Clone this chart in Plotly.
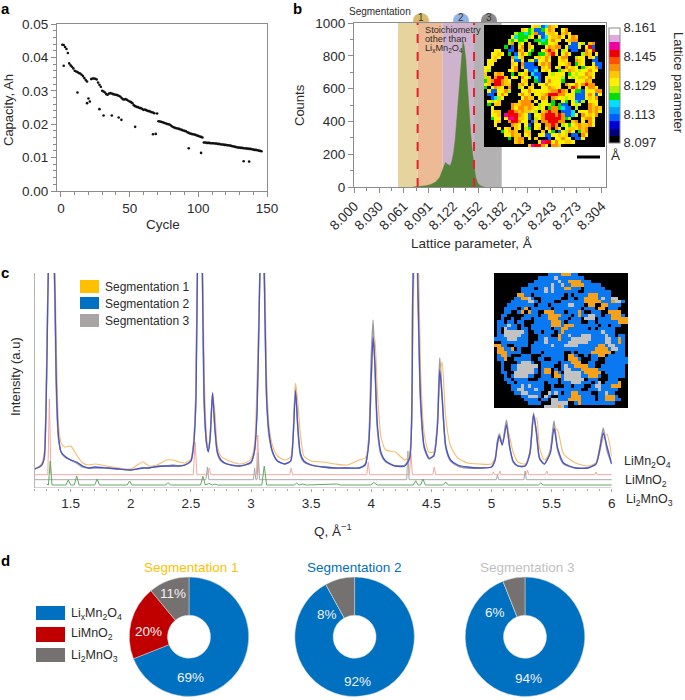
import plotly.graph_objects as go

# panel a: capacity fade
cycle_main = list(range(1, 20)) + list(range(22, 69)) + list(range(70, 103)) + list(range(103, 147))
capacity_main = [
    .0438, .0437, .0431, .0425, .0413, .0382, .0376, .0372, .0367, .0360, .0358, .0356, .0353, .0352, .0348, .0344, .0338, .0332, .0328,
    .0335, .0337, .0337, .0336, .0334, .0325, .0318, .0312, .0300, .0298, .0295, .0290, .0288, .0292, .0293, .0292, .0290, .0289, .0288, .0287, .0285, .0283, .0279, .0275, .0274, .0275, .0273, .0270, .0268, .0266, .0263, .0257, .0254, .0252, .0251, .0249, .0248, .0246, .0243, .0244, .0242, .0240, .0239, .0238, .0236, .0235, .0233, .0232,
    .0209, .0208, .0207, .0206, .0204, .0203, .0201, .0200, .0199, .0196, .0193, .0191, .0189, .0188, .0187, .0186, .0184, .0183, .0181, .0180, .0179, .0176, .0174, .0172, .0171, .0170, .0169, .0168, .0166, .0165, .0163, .0162, .0160,
    .0145, .0145, .0144, .0144, .0144, .0143, .0143, .0143, .0142, .0142, .0141, .0141, .0140, .0139, .0139, .0138, .0138, .0137, .0137, .0136, .0135, .0134, .0133, .0132, .0131, .0130, .0130, .0129, .0129, .0128, .0128, .0127, .0127, .0126, .0126, .0125, .0124, .0123, .0123, .0122, .0121, .0120, .0119, .0116,
]
cycle_low = [2, 12, 19, 20, 21, 28, 31, 37, 42, 44, 54, 67, 69, 93, 102, 133, 137]
capacity_low = [.0375, .0295, .0263, .0277, .0268, .0245, .0226, .0226, .0220, .0213, .0192, .0170, .0171, .0128, .0114, .0089, .0088]

# panel b: histogram of lattice parameter
lattice_bins = [8.072, 8.080, 8.088, 8.094, 8.100, 8.105, 8.108, 8.110, 8.112, 8.114, 8.118, 8.120, 8.122, 8.124, 8.126, 8.128, 8.130, 8.132, 8.1335, 8.135, 8.137, 8.139, 8.141, 8.143, 8.145, 8.147, 8.149, 8.152, 8.156, 8.160]
lattice_counts = [0, 2, 8, 15, 30, 60, 95, 115, 150, 140, 130, 160, 210, 290, 410, 560, 700, 820, 890, 860, 780, 620, 460, 330, 220, 120, 60, 20, 5, 0]
hist_ticks = [8.0, 8.0304, 8.0608, 8.0912, 8.1216, 8.152, 8.1824, 8.2128, 8.2432, 8.2736, 8.304]
hist_labels = ["8.000", "8.030", "8.061", "8.091", "8.122", "8.152", "8.182", "8.213", "8.243", "8.273", "8.304"]
hist_minor = [8.0152, 8.0456, 8.076, 8.1064, 8.1368, 8.1672, 8.1976, 8.228, 8.2584, 8.2888]
band_edges = [8.0537, 8.0778, 8.1086, 8.1471, 8.1811]
band_colors = ["#e6d39d", "#edba96", "#cfb2cd", "#b3b1b1"]
cut_lines = [8.0778, 8.1471]
bubble_labels = ["1", "2", "3"]
bubble_colors = ["#d9bb6e", "#93b4e2", "#8c8a8a"]

# lattice map, one letter per cell
lattice_rows = [
    "..............yalbcoay..............",
    "...........ayglbbgyoa..yo...........",
    ".........lggcglobbyaay.aoy..........",
    "........ycgggly.ybcyaaoy.yoa........",
    ".......lgyggl..ggcgyoyy.yaoo........",
    ".......lo.ly.a..lggyya...ybbyl.ao...",
    "......g.b.yo.ay...yoaoo.ybbby.yrb...",
    "...yy..bb.oa.yg..yoroy.ly.bb..oyr...",
    "..yyay.g.byoyg..ggaory.yoy...loa.y..",
    "..yay...ocya...yayoa..yoo..lyy.ayb..",
    ".yya....ybby.lybyyoy..yay..oay..bb..",
    ".yy.....ay.obbb.yoao..yyao.gay..ybb.",
    "yy......yo.abbbb.ayo.ya.oyay.gayyob.",
    "yl.....yyo..ybbc.yay..gayoaylyyoyy..",
    "a..aoa..g.lya.cbb..ylyyy.gylyyoay...",
    "la.orra.yy.oyl.cb.yyyyyl.ylylayoy...",
    "gaorroay...ya..gb.yoyyyg...yyyoa....",
    "ya.rroaa..aoy.a.yyoyyyy.oyyoyoroo...",
    "g.yoay.o..ly.ay..yyoayy..aroy.yooy..",
    ".ybbyyol...yyoyyyyyaooroa.yggbyyyoo.",
    ".bb.yoy...yoya.yyaorrrooyyybbbyoyby.",
    "..bcly.....yoaa.yoa.oayylyybbbyayo..",
    ".ylya.....aooo.y.yy.g..yg.ycbl.yyy..",
    ".g.aa...oaaoooa.lyylg.gbb.yly..oay..",
    "..y.....oyooaoayly.googcbb.l...oaoa.",
    "..yaa..rroaoaayl.aoroo.bbbc.yyyoaoy.",
    "..yya.mrrroayb.yyorrrorobbcy.oyayo..",
    "..gyy.ymmraayb.lyorrrrrogl...yooy...",
    "...ya..orroyy.ba.oorrroo..ao.y.oy...",
    "...y....oay.yb.yy.ooro.lygyaoaaoy...",
    "....y.ya.ay.lg.ya.yo.oy.yaayoao.....",
    ".....gyaoa..aa...a.yg.byloy.gao.....",
    "......yyoaa.ya..yybbyyaya.bb.oy.....",
    ".......g.aoo.y.a..nb.yyoyy.bby......",
    ".........aoa....ymrryoyyaay.........",
    ".............amrroy.ooa.............",
]
lattice_letters = ".ndbscglyaotrmpw"
lattice_palette = ["#000000", "#00007a", "#0000d8", "#0060ff", "#00a0ff", "#00e0ff", "#00e000", "#b0f000",
                   "#fff000", "#ffc800", "#ff9000", "#ff5000", "#f00000", "#f000a0", "#e0a8dc", "#ffffff"]
lattice_min = 8.097
lattice_max = 8.161
lattice_tickvals = [8.097, 8.113, 8.129, 8.145, 8.161]

# panel c: diffraction patterns, height above the axis
q_grid = [1.20, 1.22, 1.24, 1.26, 1.28, 1.30, 1.31, 1.32, 1.33, 1.345,
          1.36, 1.37, 1.38, 1.39, 1.40, 1.42, 1.45, 1.50, 1.55, 1.60,
          1.65, 1.70, 1.80, 1.90, 2.00, 2.10, 2.15, 2.20, 2.30, 2.35,
          2.40, 2.45, 2.50, 2.52, 2.54, 2.555, 2.575, 2.595, 2.61, 2.63,
          2.645, 2.66, 2.68, 2.70, 2.72, 2.75, 2.80, 2.90, 2.95, 3.00,
          3.03, 3.05, 3.07, 3.09, 3.11, 3.13, 3.15, 3.18, 3.22, 3.28,
          3.33, 3.35, 3.37, 3.39, 3.41, 3.44, 3.50, 3.60, 3.70, 3.80,
          3.90, 3.95, 3.98, 4.00, 4.015, 4.03, 4.05, 4.08, 4.12, 4.20,
          4.28, 4.32, 4.345, 4.37, 4.39, 4.41, 4.44, 4.48, 4.52, 4.55,
          4.57, 4.59, 4.62, 4.66, 4.72, 4.80, 4.90, 5.00, 5.03, 5.05,
          5.065, 5.09, 5.125, 5.15, 5.18, 5.22, 5.28, 5.32, 5.35, 5.375,
          5.40, 5.44, 5.49, 5.52, 5.55, 5.60, 5.70, 5.80, 5.87, 5.90,
          5.93, 5.96, 6.00]
seg1_curve = [19, 20, 22, 25, 36, 130, 210, 260, 290, 300,
              250, 215, 150, 90, 62, 45, 41, 42, 33, 25,
              23, 24, 22, 20, 19, 26, 22, 22, 28, 28,
              26, 25, 29, 45, 100, 240, 300, 250, 120, 52,
              38, 55, 96, 75, 42, 32, 28, 24, 25, 29,
              45, 107, 200, 300, 250, 110, 62, 42, 32, 28,
              31, 50, 105, 85, 55, 32, 27, 26, 24, 23,
              28, 30, 45, 100, 140, 150, 100, 52, 38, 36,
              28, 33, 140, 300, 250, 120, 55, 36, 36, 62,
              110, 126, 70, 42, 30, 25, 24, 24, 30, 42,
              48, 45, 62, 52, 36, 26, 24, 33, 68, 70,
              40, 28, 36, 60, 58, 34, 25, 22, 25, 35,
              50, 54, 32]
seg2_curve = [19, 20, 21, 23, 30, 110, 190, 250, 290, 300,
              240, 190, 110, 70, 50, 36, 32, 28, 26, 22,
              20, 21, 20, 19, 18, 20, 20, 21, 22, 22,
              22, 23, 27, 40, 80, 220, 300, 220, 90, 45,
              36, 50, 95, 60, 36, 28, 24, 22, 23, 26,
              38, 75, 190, 300, 215, 90, 55, 36, 27, 24,
              27, 50, 97, 60, 35, 27, 23, 21, 20, 20,
              20, 23, 45, 110, 151, 125, 65, 36, 27, 22,
              22, 30, 190, 300, 190, 90, 42, 30, 32, 60,
              118, 90, 42, 28, 23, 21, 20, 21, 28, 45,
              52, 43, 63, 42, 27, 22, 22, 35, 73, 55,
              30, 24, 35, 60, 40, 25, 20, 20, 24, 38,
              55, 42, 24]
seg3_curve = [19, 20, 21, 23, 30, 115, 195, 250, 290, 300,
              235, 180, 100, 65, 48, 36, 31, 28, 25, 21,
              20, 20, 20, 19, 18, 20, 20, 22, 22, 23,
              22, 23, 27, 40, 85, 225, 300, 215, 85, 45,
              37, 50, 95, 58, 35, 27, 24, 22, 23, 25,
              38, 78, 195, 300, 210, 88, 52, 35, 27, 24,
              27, 52, 103, 58, 33, 26, 23, 21, 20, 20,
              20, 24, 50, 130, 168, 125, 60, 34, 26, 22,
              23, 32, 195, 300, 180, 85, 40, 29, 33, 65,
              130, 90, 40, 27, 22, 20, 20, 21, 28, 47,
              54, 44, 68, 42, 26, 22, 22, 36, 75, 53,
              29, 24, 38, 67, 38, 24, 20, 20, 25, 40,
              60, 38, 24]

# reference patterns
limn2o4_q = [1.2, 1.31, 1.323, 1.336, 2.52, 2.535, 2.55, 2.64, 2.652, 2.665, 3.045, 3.056, 3.067, 3.322, 3.334, 3.346,
             3.963, 3.975, 3.987, 4.318, 4.33, 4.342, 4.512, 4.524, 4.536, 5.005, 5.015, 5.025, 5.06, 5.07, 5.08,
             5.29, 5.3, 5.31, 5.45, 5.46, 5.47, 5.86, 5.87, 5.88, 6.0, 6.04]
limn2o4_h = [13.3, 13.3, 89, 13.3, 13.3, 46, 13.3, 13.3, 20, 13.3, 13.3, 53, 13.3, 13.3, 20, 13.3,
             13.3, 26, 13.3, 13.3, 35, 13.3, 13.3, 21, 13.3, 13.3, 16, 13.3, 13.3, 17, 13.3,
             13.3, 18, 13.3, 13.3, 17, 13.3, 13.3, 16, 13.3, 13.3, 22]
limno2_q = [1.2, 2.625, 2.637, 2.649, 3.02, 3.03, 3.04, 3.05, 3.06, 3.07, 4.295, 4.305, 4.315, 5.04, 5.05, 5.06, 5.27, 5.28, 5.29, 6.04]
limno2_h = [8.3, 8.3, 21, 8.3, 8.3, 20, 8.3, 8.3, 35, 8.3, 8.3, 37, 8.3, 8.3, 13, 8.3, 8.3, 17, 8.3, 8.3]
li2mno3_q = [1.30, 1.315, 1.33, 1.345, 1.46, 1.48, 1.50, 1.53, 1.55, 1.57, 1.70, 1.72, 1.74, 1.97, 1.99, 2.01, 2.29, 2.31, 2.33,
             2.58, 2.60, 2.62, 2.65, 2.68, 2.70, 2.72, 3.09, 3.11, 3.13, 3.36, 3.38, 3.40, 3.43, 3.46, 3.72, 3.74,
             4.00, 4.02, 4.05, 4.35, 4.37, 4.39, 4.41, 4.43, 4.45, 4.60, 4.62, 4.64, 5.39, 5.41, 5.43, 6.0, 6.04]
li2mno3_h = [4, 3, 27, 3, 3, 8, 3, 3, 12, 3, 3, 9, 3, 3, 7, 3, 3, 5.5, 3,
             3, 11.7, 3, 4.5, 3, 4, 3, 3, 22, 3, 3, 5, 3, 4, 3, 4, 3,
             3, 5.7, 3, 3, 7.3, 3, 3, 9, 3, 3, 6, 3, 3, 5, 3, 3, -3]

seg_map_rows = [
    "................bbbbooobb...............",
    ".............bbbbbsbbbbbbbb.............",
    "............bbbbbbbsbboooobbb...........",
    "..........bbbbbbbsbbsbboooobbbbb........",
    "........bbbb.bbsbsbbboobbb.bbbbbb.......",
    "........bbbbbbbsbsbbbbbbb..bbbbbbbb.....",
    ".......oobb.bbbbbbbbb.b.bbbbooobbbb.....",
    "......bboosb..bbbbbb..bb.bboooobsbbss...",
    ".....bbbbbssb.bbbb..bbbbbbbooooobbbossb.",
    "....bbbbbbbb.bbb.bbbbbssbbb.oo..oobbbb..",
    "...bbbb.bo.bbbbbb.bbbbbbbb.bbb.oo.bbb...",
    "...bb..bo.obb..ooobbb.bbbob..bbb..oooo..",
    "..bb.....bbbb.bboooobbb.bobbssbb.bbooob.",
    "..b..b..bbb.bbbbooobbb.bbb.sss.bbbbooooo",
    ".bb.bb.bb...bbbbbooob.bbbb..bb.bbbbbbooo",
    ".bbbsbb.b..bbbbbbooobooobbbbbbb.bb.bbb..",
    ".b.sbbb.bb.bbbbbb.bboobbbbbb.b.bbbbb....",
    ".b.ssssssb..bb.bbb.bobbbbbbbbbbbsbbb....",
    ".bbsssssbb...bbbb..obbsbbbsssbbbbsbb.bb.",
    "bbbbsssbbb...bbsbbbobbbssssssbbbbssbbob.",
    "..bbbbbbbb..bbbsbbbbbbssssssbbbbbssbbob.",
    "oobb..bbbb.bbbbbbsbbbssssbbbbbboobssbbb.",
    ".oobbo.b...bbbbbbbbbbbbbbbbbbboooobssbb.",
    ".ooobbbb...bbb.bbbbbb..b.bbbboooooo.bbb.",
    ".boob...bbb...bbbbbbb.oob..b.bboo.bbbbb.",
    ".bbo..bbbbb..bb..bbbb.ooob...bb..bbbbbbb",
    "..b....bsssb..bbbbb.bbbooo..bb...bbbbbbb",
    "..b..bbssssss.bbbb..bsbboooobb..bbbbbbb.",
    "..b..bbsssssb.boo.b.bssbbbooooobbbbbbbb.",
    "..bb..ssssssb.boo.ob.sssssbooooo.bbbbbb.",
    "...b.bssssbb..bbb.oobsssssbbooob..bbbbb.",
    "...bb.bbbb...bbbbbb.bssssss.bbb...bbb...",
    "....bb.bbbbbbbb.bbb.bbbsssbbb.bs.bbbbo..",
    ".....bbbsbsbbbb..b...bb.bbb..bssbbbooo..",
    ".....bbssbbbsbb..bbbbbbbbb..bbbsbbbbb...",
    "......bbssbbbb..sbsb.bboobbbb..bbsbb....",
    "........bbsssb.sb..bbbbooobbbb.bbooob...",
    ".........bbbb.bb.ssbbboooobbbb.bbooobb..",
    "..........bbbb...sssss..bobbbbbbbbbb....",
    "...............ssssosb..................",
]
seg_map_letters = ".bos"
seg_map_palette = ["#000000", "#0a78f0", "#f7a11a", "#c2c2c2"]

seg_names = ["Segmentation 1", "Segmentation 2", "Segmentation 3"]
seg_colors = ["#ffc000", "#0070c0", "#a9a5a5"]
title_colors = ["#ffc000", "#0070c0", "#bfbfbf"]

# panel d: phase fractions
phase_names = ["Li<sub>x</sub>Mn<sub>2</sub>O<sub>4</sub>", "LiMnO<sub>2</sub>", "Li<sub>2</sub>MnO<sub>3</sub>"]
phase_colors = ["#0070c0", "#c00000", "#767171"]
fractions_1 = [69, 20, 11]
fractions_2 = [92, 0, 8]
fractions_3 = [94, 0, 6]

FONT = "Liberation Sans"
TXT = "#2b2b2b"
AXC = "#8c8c8c"
W, H = 685, 700


def xfrac(p):
    return p / W


def yfrac(p):
    return 1 - p / H


def dom_x(a, b):
    return [xfrac(a), xfrac(b)]


def dom_y(top, bottom):
    return [yfrac(bottom), yfrac(top)]


def note(x, y, text, size=13.5, color=TXT, angle=0, anchor="center", bold=False):
    if bold:
        text = "<b>" + text + "</b>"
    return dict(x=xfrac(x), y=yfrac(y), xref="paper", yref="paper", text=text, showarrow=False,
                xanchor=anchor, yanchor="middle", textangle=angle,
                font=dict(family=FONT, size=size, color=color))


def box(a, b, top, bottom, color, layer="above"):
    return dict(type="rect", xref="paper", yref="paper", x0=xfrac(a), x1=xfrac(b), y0=yfrac(bottom), y1=yfrac(top),
                fillcolor=color, line=dict(width=0), layer=layer)


def discrete_scale(colors):
    scale = []
    n = len(colors)
    for i, c in enumerate(colors):
        scale.append([i / n, c])
        scale.append([(i + 1) / n, c])
    return scale


fig = go.Figure()

fig.add_trace(go.Scatter(x=cycle_main, y=capacity_main, mode="markers", marker=dict(size=2.6, color="#111111"),
                         xaxis="x", yaxis="y", showlegend=False))
fig.add_trace(go.Scatter(x=cycle_low, y=capacity_low, mode="markers", marker=dict(size=2.6, color="#111111"),
                         xaxis="x", yaxis="y", showlegend=False))

fig.add_trace(go.Scatter(x=lattice_bins, y=lattice_counts, mode="lines", fill="tozeroy", fillcolor="#558238",
                         line=dict(color="#558238", width=0.5), xaxis="x2", yaxis="y2", showlegend=False))

lattice_z = []
for row in lattice_rows:
    lattice_z.append([lattice_min + (lattice_letters.index(c) + 0.5) / 16 * (lattice_max - lattice_min) for c in row])
fig.add_trace(go.Heatmap(z=lattice_z, xaxis="x3", yaxis="y3", zmin=lattice_min, zmax=lattice_max,
                         colorscale=discrete_scale(lattice_palette),
                         colorbar=dict(x=xfrac(609.3), xanchor="left", xpad=0, ypad=0, thickness=11.4,
                                       y=yfrac(85.2), yanchor="middle", len=115 / H,
                                       outlinecolor="#8c8c8c", outlinewidth=1, ticks="",
                                       tickvals=lattice_tickvals, ticktext=["8.097", "8.113", "8.129", "8.145", "8.161"],
                                       tickfont=dict(family=FONT, size=13, color=TXT))))

fig.add_trace(go.Scatter(x=limn2o4_q, y=limn2o4_h, mode="lines", line=dict(color="#f3a89e", width=1), cliponaxis=False,
                         xaxis="x4", yaxis="y4", showlegend=False))
fig.add_trace(go.Scatter(x=limno2_q, y=limno2_h, mode="lines", line=dict(color="#a8a8a8", width=1), cliponaxis=False,
                         xaxis="x4", yaxis="y4", showlegend=False))
fig.add_trace(go.Scatter(x=li2mno3_q, y=li2mno3_h, mode="lines", line=dict(color="#62a862", width=1), cliponaxis=False,
                         xaxis="x4", yaxis="y4", showlegend=False))
fig.add_trace(go.Scatter(x=q_grid, y=seg3_curve, mode="lines", line=dict(color="#9c9c9c", width=1.5, shape="spline", smoothing=0.6),
                         xaxis="x4", yaxis="y4", showlegend=False))
fig.add_trace(go.Scatter(x=q_grid, y=seg1_curve, mode="lines", line=dict(color="#f5bc6c", width=1.1, shape="spline", smoothing=0.6),
                         xaxis="x4", yaxis="y4", showlegend=False))
fig.add_trace(go.Scatter(x=q_grid, y=seg2_curve, mode="lines", line=dict(color="#4a55c8", width=1.3, shape="spline", smoothing=0.6),
                         xaxis="x4", yaxis="y4", showlegend=False))

seg_z = [[seg_map_letters.index(c) for c in row] for row in seg_map_rows]
fig.add_trace(go.Heatmap(z=seg_z, xaxis="x5", yaxis="y5", zmin=-0.5, zmax=3.5, showscale=False,
                         colorscale=discrete_scale(seg_map_palette)))

pie_centres = [189, 354.6, 525]
for cx, vals in zip(pie_centres, [fractions_1, fractions_2, fractions_3]):
    fig.add_trace(go.Pie(values=vals, marker=dict(colors=phase_colors, line=dict(color="#d8d8d8", width=0.5)),
                         hole=0.36, sort=False, direction="clockwise", rotation=0, textinfo="none",
                         showlegend=False, domain=dict(x=dom_x(cx - 60, cx + 60), y=dom_y(577, 696.5))))

tickfont = dict(family=FONT, size=13.5, color=TXT)
frame = dict(showline=True, linecolor=AXC, linewidth=1, mirror=True, ticks="outside", tickcolor=AXC, ticklen=5,
             showgrid=False, zeroline=False, tickfont=tickfont)
hidden = dict(visible=False, showgrid=False, zeroline=False)

fig.update_layout(
    width=W, height=H, autosize=False, margin=dict(l=0, r=0, t=0, b=0, autoexpand=False),
    paper_bgcolor="white", plot_bgcolor="rgba(0,0,0,0)",
    xaxis=dict(frame, domain=dom_x(57, 267), range=[-2.9, 150], anchor="y", dtick=50, tick0=0,
               minor=dict(dtick=10, tick0=0, ticks="outside", ticklen=3, tickcolor=AXC)),
    yaxis=dict(frame, domain=dom_y(24, 191), range=[0, 0.05], anchor="x", dtick=0.01, tickformat=".2f",
               minor=dict(dtick=0.002, ticks="outside", ticklen=3, tickcolor=AXC)),
    xaxis2=dict(frame, domain=dom_x(354, 606), range=[7.9996, 8.3093], anchor="y2", tickmode="array",
                tickvals=hist_ticks, ticktext=hist_labels, tickangle=-45,
                minor=dict(tickmode="array", tickvals=hist_minor, ticks="outside", ticklen=3, tickcolor=AXC)),
    yaxis2=dict(frame, domain=dom_y(23, 187), range=[0, 1000], anchor="x2", dtick=200,
                minor=dict(dtick=100, ticks="outside", ticklen=3, tickcolor=AXC)),
    xaxis3=dict(hidden, domain=dom_x(484, 605), range=[-0.5, 35.5], anchor="y3"),
    yaxis3=dict(hidden, domain=dom_y(25, 147), range=[35.5, -0.5], anchor="x3"),
    xaxis4=dict(domain=dom_x(34.6, 611.7), range=[1.2, 6.0], anchor="y4", showline=False, showgrid=False, zeroline=False,
                ticks="outside", ticklen=3, tickcolor="#a8a8a8", tickmode="array",
                tickvals=[1.5, 2, 2.5, 3, 3.5, 4, 4.5, 5, 5.5, 6],
                ticktext=["1.5", "2", "2.5", "3", "3.5", "4", "4.5", "5", "5.5", "6"], tickfont=tickfont,
                minor=dict(dtick=0.1, tick0=1.2, ticks="outside", ticklen=2, tickcolor="#a8a8a8")),
    yaxis4=dict(domain=dom_y(273, 488), range=[0, 215], anchor="x4", showline=True, linecolor="#b5b5b5", linewidth=1,
                showgrid=False, zeroline=False, showticklabels=False, ticks=""),
    xaxis5=dict(hidden, domain=dom_x(494, 628), range=[-0.5, 39.5], anchor="y5"),
    yaxis5=dict(hidden, domain=dom_y(273, 408), range=[39.5, -0.5], anchor="x5"),
)

shapes = []
for i, c in enumerate(band_colors):
    shapes.append(dict(type="rect", xref="x2", yref="y2", x0=band_edges[i], x1=band_edges[i + 1], y0=0, y1=1000,
                       fillcolor=c, line=dict(width=0), layer="below"))
for v in cut_lines:
    shapes.append(dict(type="line", xref="x2", yref="y2", x0=v, x1=v, y0=0, y1=1000,
                       line=dict(color="#e8202a", width=2, dash="dash")))
for cx, c in zip([421, 461, 489], bubble_colors):
    shapes.append(dict(type="circle", xref="paper", yref="paper", x0=xfrac(cx - 8), x1=xfrac(cx + 8),
                       y0=yfrac(29), y1=yfrac(13), fillcolor=c, line=dict(width=0), layer="below"))
shapes.append(box(577, 600, 155.5, 158.5, "#000000"))
shapes.append(dict(type="line", xref="x4", yref="y4", x0=1.2, x1=6.0, y0=0, y1=0, line=dict(color="#a8a8a8", width=1)))
for (top, bottom), c in zip([(280, 293), (297, 309), (314, 327)], seg_colors):
    shapes.append(box(80, 99, top, bottom, c))
for (top, bottom), c in zip([(606, 620), (627, 642), (648, 662)], phase_colors):
    shapes.append(box(36, 65, top, bottom, c))

notes = [
    note(5, 8, "a", 15, "#000000", bold=True),
    note(297, 8, "b", 15, "#000000", bold=True),
    note(5, 272, "c", 15, "#000000", bold=True),
    note(5, 560, "d", 15, "#000000", bold=True),
    note(8, 110, "Capacity, Ah", 13, angle=-90),
    note(163, 225, "Cycle", 13.5),
    note(299, 105, "Counts", 13, angle=-90),
    note(471, 243, "Lattice parameter, Å", 13.5),
    note(380, 12, "Segmentation", 10),
    note(423, 30, "Stoichiometry", 9.2, anchor="left"),
    note(423, 39, "other than", 9.2, anchor="left"),
    note(423, 48.5, "Li<sub>x</sub>Mn<sub>2</sub>O<sub>4</sub>", 9.2, anchor="left"),
    note(678, 83, "Lattice parameter", 13, angle=90),
    note(615, 155, "Å", 13.5),
    note(15, 377, "Intensity (a.u)", 13, angle=-90),
    note(333, 530, "Q, Å<sup>−1</sup>", 13.5),
    note(647, 462, "LiMn<sub>2</sub>O<sub>4</sub>", 12.5),
    note(646, 481, "LiMnO<sub>2</sub>", 12.5),
    note(649, 500, "Li<sub>2</sub>MnO<sub>3</sub>", 12.5),
]
for lab, cx in zip(bubble_labels, [421, 461, 489]):
    notes.append(note(cx, 18, lab, 10, "#333333"))
for name, y in zip(seg_names, [287, 304, 321]):
    notes.append(note(102.5, y, name, 12, anchor="left"))
for name, y in zip(phase_names, [614, 634, 656]):
    notes.append(note(68.5, y, name, 12.5, anchor="left"))
for name, cx, c in zip(seg_names, [191.5, 354, 527], title_colors):
    notes.append(note(cx, 567, name, 13.5, c))
for label, x, y in [("69%", 190, 677), ("20%", 148.5, 631), ("11%", 173, 593),
                    ("8%", 327, 614), ("92%", 357, 681), ("6%", 495, 612), ("94%", 528, 678)]:
    notes.append(note(x, y, label, 13.5, "#f2f2f2"))

fig.update_layout(shapes=shapes, annotations=notes)

fig.write_html("out.html", config=dict(displayModeBar=False),
               post_script="document.body.style.margin='0';document.body.style.overflow='hidden';")
